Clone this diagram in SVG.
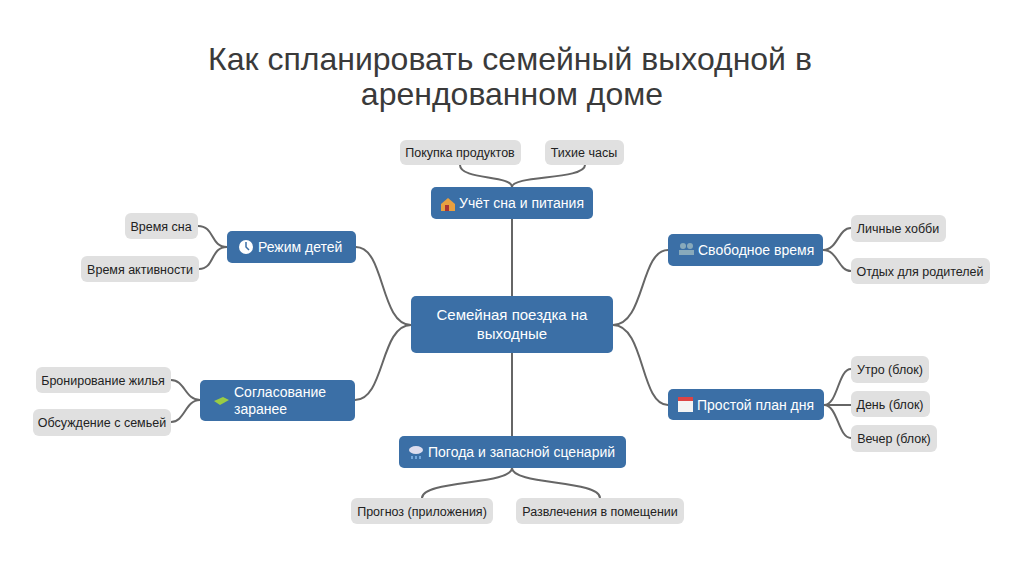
<svg xmlns="http://www.w3.org/2000/svg" width="1024" height="572" viewBox="0 0 1024 572">
<style>
.t{font-family:"Liberation Sans",Arial,sans-serif}
.title{font-size:32px;fill:#3a3a3a;text-anchor:middle}
.m .bg{fill:#3b6fa6}
.m text{font-size:14px;fill:#fff}
.c rect{fill:#e0e0e0}
.c text{font-size:12.5px;fill:#222;text-anchor:middle}
#edges path{fill:none;stroke:#666;stroke-width:2}
</style>
<rect width="1024" height="572" fill="#fff"/>
<text class="t title" x="510" y="70">Как спланировать семейный выходной в</text>
<text class="t title" x="512" y="105">арендованном доме</text>
<g id="edges">
<path d="M512 296V219"/><path d="M512 353V436"/>
<path d="M411 325C380 325 385 247 356 247"/>
<path d="M411 325C380 325 385 400 355 400"/>
<path d="M613 325C645 325 640 250 668 250"/>
<path d="M613 325C645 325 640 405 668 405"/>
<path d="M512 187C512 175 460 180 460 165"/>
<path d="M512 187C512 175 585 180 585 165"/>
<path d="M512 468C512 485 422 480 422 498"/>
<path d="M512 468C512 485 600 480 600 498"/>
<path d="M227 247C210 247 215 226 198 226"/>
<path d="M227 247C210 247 215 269 199 269"/>
<path d="M200 400C185 400 185 380 171 380"/>
<path d="M200 400C185 400 185 422 171 422"/>
<path d="M823 250C838 250 838 228 851 228"/>
<path d="M823 250C838 250 838 271 851 271"/>
<path d="M824 405C838 405 838 369 851 369"/>
<path d="M824 405H851"/>
<path d="M824 405C838 405 838 438 851 438"/>
</g>
<g id="center" class="m"><rect class="bg" x="411" y="296" width="202" height="57" rx="5"/><text class="t" x="512" y="320" text-anchor="middle" style="font-size:15px">Семейная поездка на</text><text class="t" x="512" y="339" text-anchor="middle" style="font-size:15px">выходные</text></g>
<g id="n-top" class="m"><rect class="bg" x="431" y="187" width="162" height="32" rx="5"/><path d="M441 204l7-6 7 6v7h-14z" fill="#e8a040"/><rect x="445" y="205" width="4" height="6" fill="#a33"/><text class="t" x="459" y="208">Учёт сна и питания</text></g>
<g id="n-kids" class="m"><rect class="bg" x="227" y="231" width="129" height="32" rx="5"/><circle cx="246" cy="247" r="7" fill="#fff"/><path d="M246 242v5l3 3" stroke="#3b6fa6" stroke-width="1.5" fill="none"/><text class="t" x="258" y="252">Режим детей</text></g>
<g id="n-free" class="m"><rect class="bg" x="668" y="234" width="155" height="32" rx="5"/><circle cx="683" cy="246" r="3" fill="#8ab"/><circle cx="690" cy="246" r="3" fill="#8ab"/><rect x="679" y="250" width="15" height="5" fill="#8ab"/><text class="t" x="698" y="255">Свободное время</text></g>
<g id="n-agree" class="m"><rect class="bg" x="200" y="380" width="155" height="41" rx="5"/><path d="M214 401l9-4 6 3-9 5z" fill="#9c4"/><text class="t" x="234" y="397">Согласование</text><text class="t" x="234" y="414">заранее</text></g>
<g id="n-plan" class="m"><rect class="bg" x="668" y="389" width="156" height="31" rx="5"/><rect x="678" y="397" width="15" height="15" fill="#f4f4f4"/><rect x="678" y="397" width="15" height="4" fill="#d44"/><text class="t" x="697" y="410">Простой план дня</text></g>
<g id="n-weather" class="m"><rect class="bg" x="399" y="436" width="227" height="32" rx="5"/><ellipse cx="416" cy="450" rx="7" ry="4" fill="#dde"/><path d="M412 456v3M416 456v3M420 456v3" stroke="#9cf" stroke-width="1.2"/><text class="t" x="428" y="457">Погода и запасной сценарий</text></g>
<g id="c1" class="c"><rect x="400" y="140" width="121" height="25" rx="6"/><text class="t" x="460" y="157">Покупка продуктов</text></g>
<g id="c2" class="c"><rect x="545" y="140" width="79" height="25" rx="6"/><text class="t" x="584" y="157">Тихие часы</text></g>
<g id="c3" class="c"><rect x="125" y="213" width="73" height="26" rx="6"/><text class="t" x="161" y="231">Время сна</text></g>
<g id="c4" class="c"><rect x="81" y="256" width="118" height="26" rx="6"/><text class="t" x="140" y="274">Время активности</text></g>
<g id="c5" class="c"><rect x="851" y="215" width="95" height="27" rx="6"/><text class="t" x="898" y="233">Личные хобби</text></g>
<g id="c6" class="c"><rect x="851" y="258" width="139" height="26" rx="6"/><text class="t" x="920" y="276">Отдых для родителей</text></g>
<g id="c7" class="c"><rect x="36" y="367" width="135" height="26" rx="6"/><text class="t" x="103" y="385">Бронирование жилья</text></g>
<g id="c8" class="c"><rect x="33" y="409" width="138" height="27" rx="6"/><text class="t" x="102" y="427">Обсуждение с семьей</text></g>
<g id="c9" class="c"><rect x="851" y="356" width="78" height="27" rx="6"/><text class="t" x="890" y="374">Утро (блок)</text></g>
<g id="c10" class="c"><rect x="851" y="391" width="79" height="26" rx="6"/><text class="t" x="890" y="409">День (блок)</text></g>
<g id="c11" class="c"><rect x="851" y="425" width="86" height="27" rx="6"/><text class="t" x="894" y="443">Вечер (блок)</text></g>
<g id="c12" class="c"><rect x="351" y="498" width="142" height="26" rx="6"/><text class="t" x="422" y="516">Прогноз (приложения)</text></g>
<g id="c13" class="c"><rect x="516" y="498" width="168" height="26" rx="6"/><text class="t" x="600" y="516">Развлечения в помещении</text></g>
</svg>
